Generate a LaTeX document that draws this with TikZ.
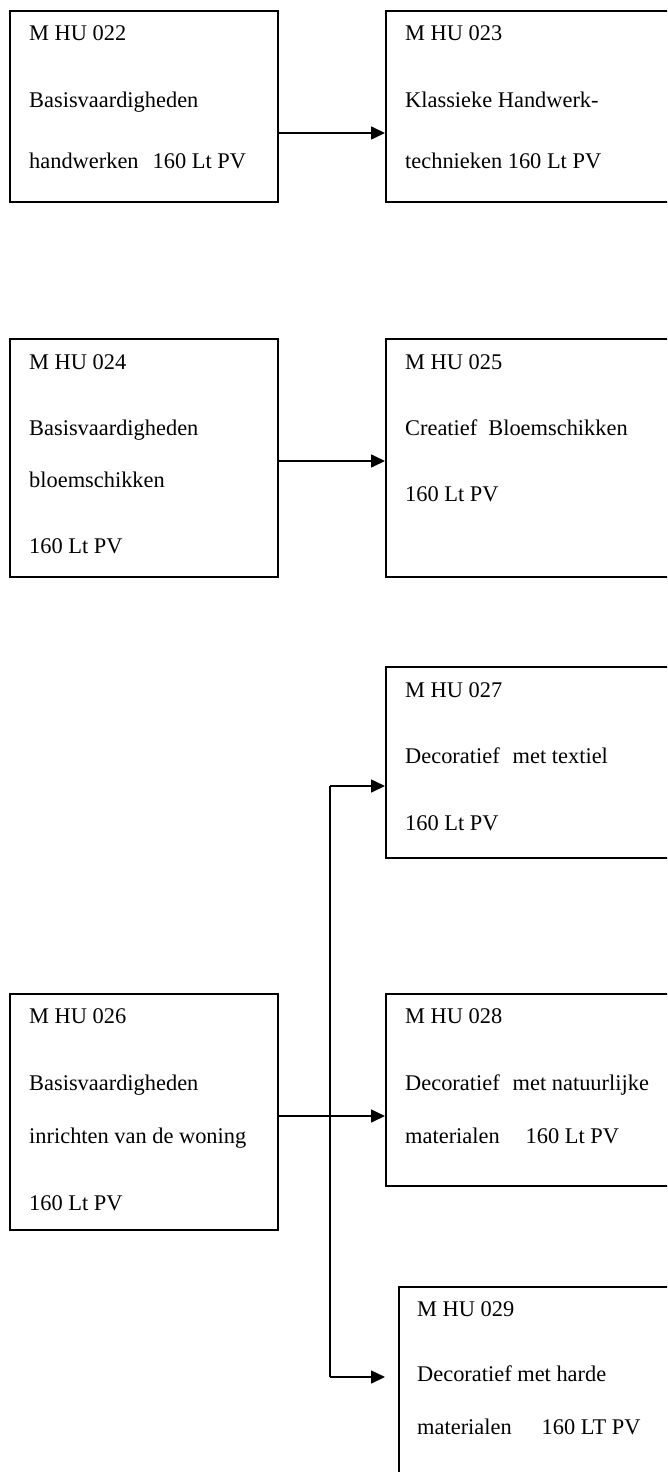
\documentclass[tikz,border=0pt]{standalone}
\usepackage{fontspec}
\setmainfont{Liberation Serif}
\usetikzlibrary{arrows.meta}
\begin{document}
\begin{tikzpicture}[x=1pt, y=-1pt,
	modbox/.style={draw=black, line width=1.6pt, inner sep=0pt, anchor=north west},
	regel/.style={black, inner sep=0pt, anchor=base west, font=\fontsize{22.4}{26}\selectfont},
	conn/.style={draw=black, line width=1.6pt, -{Triangle[length=14pt, width=13pt]}}]
	\useasboundingbox (0,0) rectangle (667,1472);
	\clip (0,0) rectangle (667,1472);
	% boxes
	\node[modbox, minimum width=268pt, minimum height=191pt] (m022) at (9,10) {};
	\node[modbox, minimum width=300pt, minimum height=191pt] (m023) at (385,10) {};
	\node[modbox, minimum width=268pt, minimum height=238pt] (m024) at (9,338) {};
	\node[modbox, minimum width=300pt, minimum height=238pt] (m025) at (385,338) {};
	\node[modbox, minimum width=300pt, minimum height=191pt] (m027) at (385,666) {};
	\node[modbox, minimum width=268pt, minimum height=236pt] (m026) at (9,993) {};
	\node[modbox, minimum width=300pt, minimum height=192pt] (m028) at (385,993) {};
	\node[modbox, minimum width=300pt, minimum height=220pt] (m029) at (398,1286) {};
	% texts
	\node[regel] (t022a) at (29,41) {M HU 022};
	\node[regel] (t022b) at (29,107) {Basisvaardigheden};
	\node[regel] (t022c) at (29,168) {handwerken\hspace{14pt}160 Lt PV};
	\node[regel] (t023a) at (405,41) {M HU 023};
	\node[regel] (t023b) at (405,107) {Klassieke Handwerk-};
	\node[regel] (t023c) at (405,168) {technieken 160 Lt PV};
	\node[regel] (t024a) at (29,369) {M HU 024};
	\node[regel] (t024b) at (29,435) {Basisvaardigheden};
	\node[regel] (t024c) at (29,487) {bloemschikken};
	\node[regel] (t024d) at (29,553) {160 Lt PV};
	\node[regel] (t025a) at (405,369) {M HU 025};
	\node[regel] (t025b) at (405,435) {Creatief\hspace{11pt}Bloemschikken};
	\node[regel] (t025c) at (405,501) {160 Lt PV};
	\node[regel] (t027a) at (405,697) {M HU 027};
	\node[regel] (t027b) at (405,763) {Decoratief\hspace{13pt}met textiel};
	\node[regel] (t027c) at (405,830) {160 Lt PV};
	\node[regel] (t026a) at (29,1023) {M HU 026};
	\node[regel] (t026b) at (29,1090) {Basisvaardigheden};
	\node[regel] (t026c) at (29,1143) {inrichten van de woning};
	\node[regel] (t026d) at (29,1210) {160 Lt PV};
	\node[regel] (t028a) at (405,1023) {M HU 028};
	\node[regel] (t028b) at (405,1090) {Decoratief\hspace{13pt}met natuurlijke};
	\node[regel] (t028c) at (405,1143) {materialen\hspace{26pt}160 Lt PV};
	\node[regel] (t029a) at (417,1316) {M HU 029};
	\node[regel] (t029b) at (417,1381) {Decoratief met harde};
	\node[regel] (t029c) at (417,1434) {materialen\hspace{30pt}160 LT PV};
	% connectors
	\coordinate (r1) at (0,133);
	\coordinate (r2) at (0,461);
	\coordinate (r3) at (0,1116);
	\coordinate (top) at (330,786);
	\coordinate (bot) at (330,1377);
	\draw[conn] (r1 -| m022.east) -- (r1 -| m023.west);
	\draw[conn] (r2 -| m024.east) -- (r2 -| m025.west);
	\draw[conn] (r3 -| m026.east) -- (r3 -| m028.west);
	\draw[conn, -] (top) -- (bot);
	\draw[conn] (top) -- (top -| m027.west);
	\draw[conn, shorten >=13pt] (bot) -- (bot -| m029.west);
\end{tikzpicture}
\end{document}
